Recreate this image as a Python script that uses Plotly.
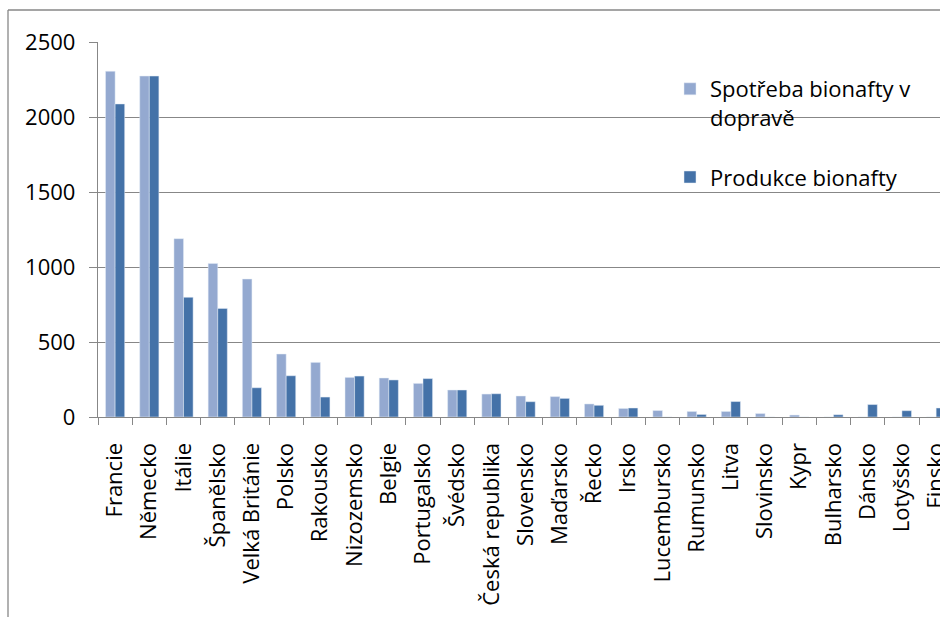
import plotly.graph_objects as go

categories = ["Francie", "Německo", "Itálie", "Španělsko", "Velká Británie", "Polsko",
              "Rakousko", "Nizozemsko", "Belgie", "Portugalsko", "Švédsko",
              "Česká republika", "Slovensko", "Maďarsko", "Řecko", "Irsko",
              "Lucembursko", "Rumunsko", "Litva", "Slovinsko", "Kypr", "Bulharsko",
              "Dánsko", "Lotyšsko", "Finsko"]
spotreba = [2305, 2273, 1189, 1024, 920, 420, 364, 264, 260, 224, 180, 153, 140, 136,
            87, 57, 43, 37, 37, 23, 13, 0, 0, 0, 0]
produkce = [2087, 2273, 798, 724, 195, 275, 133, 273, 247, 256, 180, 155, 102, 124,
            78, 60, 0, 17, 103, 0, 0, 15, 83, 42, 60]
name1 = "Spotřeba bionafty v<br>dopravě"
name2 = "Produkce bionafty"
y_ticks = [0, 500, 1000, 1500, 2000, 2500]

W, H = 940, 617
ML, MR, MT, MB = 98, 0, 42, 200
pw, ph = W - ML - MR, H - MT - MB
cat_w = 34.21
GRID = "#878787"
FONT = "Open Sans"

fig = go.Figure()
fig.add_trace(go.Bar(x=categories, y=spotreba, name=name1, marker_color="#94A9D0",
                     legendgroup="a"))
fig.add_trace(go.Bar(x=categories, y=produkce, name=name2, marker_color="#4472A8",
                     legendgroup="b"))

def px(xp):
    return (xp - ML) / pw

def py(yp):
    return (H - MB - yp) / ph

fig.add_shape(type="line", xref="paper", yref="paper", x0=px(8), x1=px(8),
              y0=py(10), y1=py(640), line=dict(color=GRID, width=1.3))
fig.add_shape(type="line", xref="paper", yref="paper", x0=px(8), x1=px(960),
              y0=py(10), y1=py(10), line=dict(color=GRID, width=1.3))

fig.update_layout(
    width=W, height=H, autosize=False,
    margin=dict(l=ML, r=MR, t=MT, b=MB, pad=0, autoexpand=False),
    paper_bgcolor="white", plot_bgcolor="white",
    barmode="group", bargap=0.44, bargroupgap=0,
    font=dict(family=FONT, size=22, color="#000000"),
    showlegend=True,
    legend=dict(x=px(670), y=py(68), xanchor="left", yanchor="top",
                font=dict(family=FONT, size=22, color="#000000"),
                valign="top", tracegroupgap=28, bgcolor="rgba(0,0,0,0)"),
    xaxis=dict(
        range=[-0.5, -0.5 + pw / cat_w], automargin=False,
        tickson="boundaries", ticks="outside", ticklen=7, tickcolor=GRID,
        tickwidth=1.3,
        showline=True, linecolor=GRID, linewidth=1.3,
        tickangle=-90, ticklabelstandoff=16,
        tickfont=dict(family=FONT, size=22, color="#000000"),
        showgrid=False, zeroline=False,
    ),
    yaxis=dict(
        range=[0, 2500], tickvals=y_ticks, ticktext=[str(v) for v in y_ticks],
        automargin=False,
        ticks="outside", ticklen=8, tickcolor=GRID, tickwidth=1.3,
        showline=True, linecolor=GRID, linewidth=1.3,
        showgrid=True, gridcolor=GRID, gridwidth=1.3,
        zeroline=False, ticklabelstandoff=9,
        tickfont=dict(family=FONT, size=22, color="#000000"),
    ),
)

fig.write_html("out.html")
